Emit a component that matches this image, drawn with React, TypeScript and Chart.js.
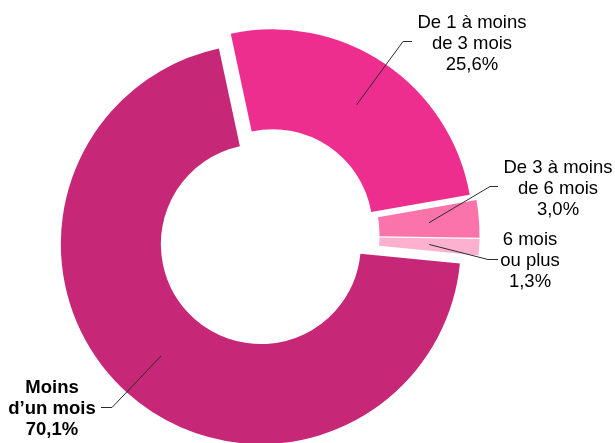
import React, { useEffect, useRef } from 'react';
import { Chart, registerables } from 'chart.js';

Chart.register(...registerables);

// ---- Data ----
const categories = ['De 1 à moins de 3 mois', 'De 3 à moins de 6 mois', '6 mois ou plus', 'Moins d’un mois'];
const labelTitles = [
  ['De 1 à moins', 'de 3 mois'],
  ['De 3 à moins', 'de 6 mois'],
  ['6 mois', 'ou plus'],
  ['Moins', 'd’un mois'],
];
const values = [25.6, 3.0, 1.3, 70.1];
const colors = ['#EE2E8F', '#FA74AB', '#FDB1CF', '#C62777'];
// explosion distance of each slice (px)
const explode = [7.5, 11, 11, 11.5];

// ---- Label layout (elbow point, line end, text centre x, first baseline, bold) ----
const labelLayout = [
  { ex: 403, ey: 41, lx: 412, cx: 472, by: 27.5, bold: false },
  { ex: 490, ey: 186, lx: 498, cx: 558, by: 173, bold: false },
  { ex: 488, ey: 259, lx: 498, cx: 530, by: 245, bold: false },
  { ex: 112, ey: 407, lx: 101, cx: 52, by: 393, bold: true },
];

const FONT = 'Arial, "Liberation Sans", sans-serif';

const fmt = (v: number) => v.toFixed(1).replace('.', ',') + '%';

// Shifts each arc away from the centre along its mid-angle (pie explosion)
const explodePlugin = {
  id: 'explodeSlices',
  beforeDatasetsDraw(chart: any) {
    const ca = chart.chartArea;
    const cx = (ca.left + ca.right) / 2;
    const cy = (ca.top + ca.bottom) / 2;
    const meta = chart.getDatasetMeta(0);
    meta.data.forEach((arc: any, i: number) => {
      const mid = (arc.startAngle + arc.endAngle) / 2;
      const d = explode[i] || 0;
      arc.x = cx + Math.cos(mid) * d;
      arc.y = cy + Math.sin(mid) * d;
    });
  },
};

const labelPlugin = {
  id: 'sliceLabels',
  afterDatasetsDraw(chart: any) {
    const ctx = chart.ctx;
    const meta = chart.getDatasetMeta(0);
    ctx.save();
    meta.data.forEach((arc: any, i: number) => {
      const mid = (arc.startAngle + arc.endAngle) / 2;
      const r = (arc.innerRadius + arc.outerRadius) / 2;
      const sx = arc.x + Math.cos(mid) * r;
      const sy = arc.y + Math.sin(mid) * r;
      const L = labelLayout[i];
      ctx.beginPath();
      ctx.strokeStyle = '#2b2b2b';
      ctx.lineWidth = 1;
      ctx.moveTo(sx, sy);
      ctx.lineTo(L.ex, L.ey + 0.5);
      ctx.lineTo(L.lx, L.ey + 0.5);
      ctx.stroke();

      const lines = [...labelTitles[i], fmt(values[i])];
      ctx.fillStyle = '#000000';
      ctx.textAlign = 'center';
      ctx.textBaseline = 'alphabetic';
      ctx.font = `${L.bold ? 'bold ' : ''}18.5px ${FONT}`;
      lines.forEach((s, k) => {
        ctx.fillText(s, L.cx, L.by + k * 21);
      });
    });
    ctx.restore();
  },
};

export default function App() {
  const ref = useRef<HTMLCanvasElement | null>(null);

  useEffect(() => {
    if (!ref.current) return;
    const chart = new Chart(ref.current, {
      type: 'doughnut',
      data: {
        labels: categories,
        datasets: [
          {
            data: values,
            backgroundColor: colors,
            borderWidth: 0,
            offset: 0,
            hoverOffset: 0,
          },
        ],
      },
      options: {
        responsive: false,
        animation: false,
        events: [],
        rotation: -12.1,
        radius: 200,
        cutout: '50%',
        layout: { padding: { top: 28, right: 78, bottom: 0, left: 0 } },
        plugins: {
          legend: { display: false },
          tooltip: { enabled: false },
          title: { display: false },
        },
      } as any,
      plugins: [explodePlugin, labelPlugin],
    });
    return () => chart.destroy();
  }, []);

  return (
    <div style={{ position: 'absolute', left: 0, top: 0, width: 615, height: 443, background: '#fff' }}>
      <canvas ref={ref} width={615} height={443} style={{ display: 'block', width: 615, height: 443 }} />
    </div>
  );
}
